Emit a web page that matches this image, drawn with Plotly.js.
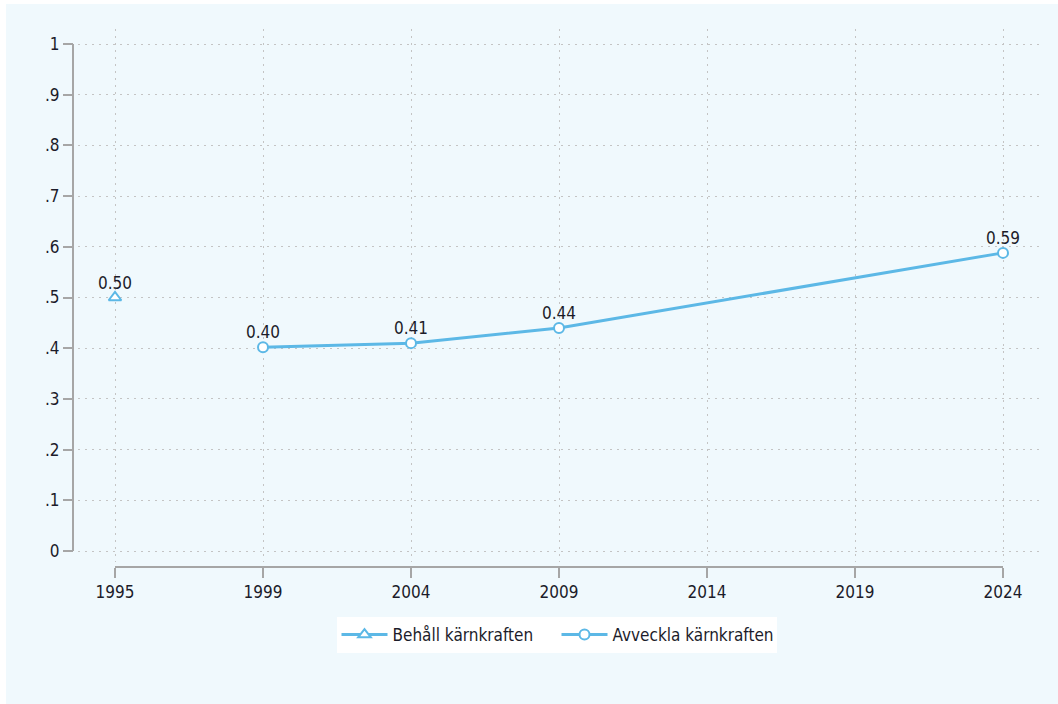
<!DOCTYPE html>
<html>
<head>
<meta charset="utf-8">
<script src="https://cdn.plot.ly/plotly-3.0.1.min.js"></script>
<style>
  html, body { margin: 0; padding: 0; background: #ffffff; }
  #chart { position: absolute; left: 6px; top: 4px; width: 1052px; height: 700px; }
</style>
</head>
<body>
<div id="chart"></div>
<script>
// Categories on the x axis (evenly spaced survey years)
const years = ['1995', '1999', '2004', '2009', '2014', '2019', '2024'];

// Series: Behåll kärnkraften
const behallYears = ['1995'];
const behallValues = [0.50];

// Series: Avveckla kärnkraften
const avvecklaYears = ['1999', '2004', '2009', '2024'];
const avvecklaValues = [0.402, 0.41, 0.44, 0.588];

// Y ticks
const yTickVals = [0, 0.1, 0.2, 0.3, 0.4, 0.5, 0.6, 0.7, 0.8, 0.9, 1];
const yTickText = ['0', '.1', '.2', '.3', '.4', '.5', '.6', '.7', '.8', '.9', '1'];

const blue = '#5cb8e6';
const bg = '#f0f9fd';
const textColor = '#1c1c2a';
const axisGray = '#a6a6a6';
const gridGray = '#c4c4c4';
const FONT = '"Liberation Sans Narrow", "DejaVu Sans Condensed", "Open Sans", sans-serif';
const FS = 17;

const traces = [
  {
    type: 'scatter', mode: 'lines+markers', name: 'Behåll kärnkraften',
    x: behallYears, y: behallValues,
    line: { color: blue, width: 3 },
    marker: { symbol: 'triangle-up', size: 11, color: '#ffffff', line: { color: blue, width: 2 } },
    hoverinfo: 'skip'
  },
  {
    type: 'scatter', mode: 'lines+markers', name: 'Avveckla kärnkraften',
    x: avvecklaYears, y: avvecklaValues,
    line: { color: blue, width: 3 },
    marker: { symbol: 'circle', size: 10, color: '#ffffff', line: { color: blue, width: 2 } },
    hoverinfo: 'skip'
  }
];

// Value labels placed above each point, built from the series arrays
// (annotations on a category axis use the category index)
function labelsFor(xs, ys) {
  return xs.map((x, i) => ({
    x: years.indexOf(x), y: ys[i], xref: 'x', yref: 'y',
    text: ys[i].toFixed(2), showarrow: false,
    xanchor: 'center', yanchor: 'bottom', yshift: 3,
    font: { family: FONT, size: FS, color: textColor }
  }));
}
const annotations = labelsFor(behallYears, behallValues).concat(labelsFor(avvecklaYears, avvecklaValues));

const layout = {
  width: 1052, height: 700,
  margin: { l: 67, r: 18, t: 25, b: 137 },
  paper_bgcolor: bg,
  plot_bgcolor: 'rgba(0,0,0,0)',
  font: { family: FONT, color: textColor, size: FS },
  showlegend: true,
  legend: {
    orientation: 'h', x: 0.5, xanchor: 'center', y: -0.093, yanchor: 'top',
    bgcolor: '#ffffff', font: { family: FONT, size: FS, color: textColor },
    itemwidth: 46, tracegroupgap: 0, entrywidth: 159
  },
  annotations: annotations,
  xaxis: {
    type: 'category', categoryorder: 'array', categoryarray: years,
    tickvals: years, ticktext: years,
    range: [-0.25, 6.25],
    domain: [5 / 967, 1],
    anchor: 'free', position: 0,
    showline: false, zeroline: false,
    ticks: 'outside', ticklen: 10, tickwidth: 2, tickcolor: axisGray,
    showgrid: true, gridcolor: gridGray, gridwidth: 1, griddash: '2px,5px',
    tickfont: { family: FONT, size: FS, color: textColor }
  },
  yaxis: {
    range: [-11 / 507, 1 + 15 / 507],
    domain: [5 / 538, 1],
    anchor: 'free', position: 0,
    tickvals: yTickVals, ticktext: yTickText,
    showline: false, zeroline: false,
    ticks: 'outside', ticklen: 10, tickwidth: 2, tickcolor: axisGray,
    showgrid: true, gridcolor: gridGray, gridwidth: 1, griddash: '2px,5px',
    tickfont: { family: FONT, size: FS, color: textColor }
  },
  shapes: [
    // y axis line spanning the tick range only
    { type: 'line', xref: 'paper', yref: 'y', x0: 0, x1: 0,
      y0: yTickVals[0], y1: yTickVals[yTickVals.length - 1],
      line: { color: axisGray, width: 2 } },
    // x axis line spanning first to last category
    { type: 'line', xref: 'x', yref: 'paper', x0: 0, x1: years.length - 1,
      y0: 0, y1: 0, line: { color: axisGray, width: 2 } }
  ]
};

Plotly.newPlot('chart', traces, layout, { displayModeBar: false, staticPlot: true });
</script>
</body>
</html>
